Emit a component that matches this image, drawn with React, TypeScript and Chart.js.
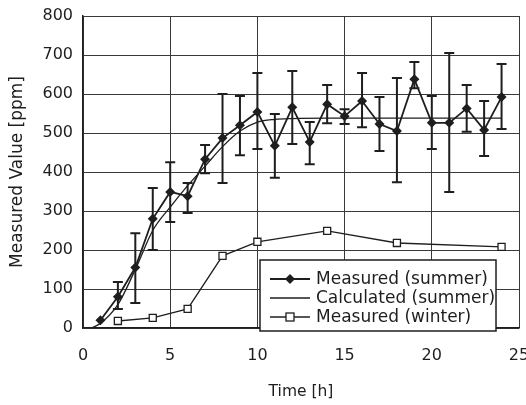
import React, { useEffect, useRef } from "react";
import { Chart, registerables } from "chart.js";
Chart.register(...registerables);

// Measured (summer)
const hoursSummer = [1, 2, 3, 4, 5, 6, 7, 8, 9, 10, 11, 12, 13, 14, 15, 16, 17, 18, 19, 20, 21, 22, 23, 24];
const measuredSummer = [20, 80, 155, 280, 349, 338, 433, 487, 520, 554, 467, 566, 477, 574, 543, 582, 523, 505, 638, 526, 526, 563, 508, 592];
const errUpper = [null, 118, 243, 359, 425, 372, 469, 600, 595, 654, 549, 659, 528, 623, 561, 654, 592, 641, 682, 595, 705, 623, 582, 677];
const errLower = [null, 49, 64, 200, 272, 295, 397, 372, 443, 459, 385, 472, 420, 525, 523, 515, 454, 374, 615, 459, 349, 503, 441, 510];

// Calculated (summer)
const hoursCalc = [0.5, 1, 2, 3, 4, 5, 6, 7, 8, 9, 10, 11, 12, 14, 16, 18, 20, 22, 24];
const calcSummer = [0, 12, 60, 150, 250, 310, 365, 415, 465, 505, 528, 535, 537, 538, 538, 538, 538, 538, 538];

// Measured (winter)
const hoursWinter = [2, 4, 6, 8, 10, 14, 18, 24];
const measuredWinter = [18, 26, 49, 185, 221, 249, 218, 208];

const xTicks = [0, 5, 10, 15, 20, 25];
const yTicks = [0, 100, 200, 300, 400, 500, 600, 700, 800];

const INK = "#1e1e1e";
const FONT = "'DejaVu Sans', sans-serif";

const errorBarPlugin = {
  id: "errorBars",
  beforeDatasetsDraw(chart: any) {
    const { ctx, scales } = chart;
    const x = scales.x;
    const y = scales.y;
    ctx.save();
    ctx.strokeStyle = INK;
    ctx.lineWidth = 2;
    hoursSummer.forEach((h, i) => {
      const hi = errUpper[i];
      const lo = errLower[i];
      if (hi == null || lo == null) return;
      const px = x.getPixelForValue(h);
      const pt = y.getPixelForValue(hi);
      const pb = y.getPixelForValue(lo);
      ctx.beginPath();
      ctx.moveTo(px, pt);
      ctx.lineTo(px, pb);
      ctx.moveTo(px - 5, pt);
      ctx.lineTo(px + 5, pt);
      ctx.moveTo(px - 5, pb);
      ctx.lineTo(px + 5, pb);
      ctx.stroke();
    });
    ctx.restore();
  },
};

const legendPlugin = {
  id: "boxLegend",
  afterDraw(chart: any) {
    const { ctx, chartArea } = chart;
    const w = 236;
    const h = 71;
    const left = chartArea.right - 259;
    const top = chartArea.bottom - 68;
    ctx.save();
    ctx.fillStyle = "#fff";
    ctx.fillRect(left, top, w, h);
    ctx.strokeStyle = INK;
    ctx.lineWidth = 1.5;
    ctx.strokeRect(left, top, w, h);
    const rows = [top + 19, top + 38, top + 57];
    const styles = ["diamond", "none", "square"];
    chart.data.datasets.forEach((ds: any, i: number) => {
      const yy = rows[i];
      ctx.strokeStyle = INK;
      ctx.lineWidth = ds.borderWidth;
      ctx.beginPath();
      ctx.moveTo(left + 10, yy);
      ctx.lineTo(left + 50, yy);
      ctx.stroke();
      const cx = left + 30;
      if (styles[i] === "diamond") {
        ctx.fillStyle = INK;
        ctx.beginPath();
        ctx.moveTo(cx, yy - 5);
        ctx.lineTo(cx + 5, yy);
        ctx.lineTo(cx, yy + 5);
        ctx.lineTo(cx - 5, yy);
        ctx.closePath();
        ctx.fill();
      } else if (styles[i] === "square") {
        ctx.fillStyle = "#fff";
        ctx.fillRect(cx - 4, yy - 4, 8, 8);
        ctx.lineWidth = 1.3;
        ctx.strokeRect(cx - 4, yy - 4, 8, 8);
      }
      ctx.fillStyle = INK;
      ctx.font = `17px ${FONT}`;
      ctx.textBaseline = "middle";
      ctx.textAlign = "left";
      ctx.fillText(ds.label, left + 56, yy + 1);
    });
    ctx.restore();
  },
};

export default function App() {
  const ref = useRef<HTMLCanvasElement>(null);
  useEffect(() => {
    if (!ref.current) return;
    const chart = new Chart(ref.current, {
      type: "line",
      data: {
        datasets: [
          {
            label: "Measured (summer)",
            data: hoursSummer.map((h, i) => ({ x: h, y: measuredSummer[i] })),
            borderColor: INK,
            backgroundColor: INK,
            borderWidth: 1.8,
            pointStyle: "rectRot",
            pointRadius: 5,
            pointBorderWidth: 0,
            order: 1,
          },
          {
            label: "Calculated (summer)",
            data: hoursCalc.map((h, i) => ({ x: h, y: calcSummer[i] })),
            borderColor: INK,
            borderWidth: 1.3,
            pointRadius: 0,
            cubicInterpolationMode: "monotone",
            order: 2,
          },
          {
            label: "Measured (winter)",
            data: hoursWinter.map((h, i) => ({ x: h, y: measuredWinter[i] })),
            borderColor: INK,
            backgroundColor: "#fff",
            borderWidth: 1.3,
            pointStyle: "rect",
            pointRadius: 5,
            pointBorderWidth: 1.3,
            order: 3,
          },
        ],
      },
      options: {
        responsive: false,
        animation: false,
        layout: { padding: { top: 16, right: 7, left: 0, bottom: 0 } },
        plugins: { legend: { display: false }, tooltip: { enabled: false } },
        scales: {
          x: {
            type: "linear",
            min: 0,
            max: 25,
            afterBuildTicks: (s: any) => {
              s.ticks = xTicks.map((v) => ({ value: v }));
            },
            afterFit: (s: any) => {
              s.height = 77;
              s.paddingLeft = 0;
              s.paddingRight = 0;
            },
            ticks: { color: INK, font: { family: FONT, size: 16 }, padding: 18 },
            grid: { color: "#3a3a3a", lineWidth: 1, drawTicks: false },
            border: { color: INK, width: 1.5 },
            title: {
              display: true,
              text: "Time [h]",
              color: INK,
              font: { family: FONT, size: 15.5 },
              padding: { top: 0, bottom: 4 },
            },
          },
          y: {
            type: "linear",
            min: 0,
            max: 800,
            afterBuildTicks: (s: any) => {
              s.ticks = yTicks.map((v) => ({ value: v }));
            },
            afterFit: (s: any) => {
              s.width = 83;
              s.paddingTop = 0;
              s.paddingBottom = 0;
            },
            ticks: { color: INK, font: { family: FONT, size: 16 }, padding: 10 },
            grid: { color: "#3a3a3a", lineWidth: 1, drawTicks: false },
            border: { color: INK, width: 1.5 },
            title: {
              display: true,
              text: "Measured Value [ppm]",
              color: INK,
              font: { family: FONT, size: 17 },
              padding: { top: 7, bottom: 0 },
            },
          },
        },
      },
      plugins: [errorBarPlugin, legendPlugin],
    } as any);
    return () => chart.destroy();
  }, []);
  return (
    <div style={{ position: "fixed", left: 0, top: 0, width: 526, height: 405, background: "#fff" }}>
      <canvas ref={ref} width={526} height={405} style={{ display: "block" }} />
    </div>
  );
}
